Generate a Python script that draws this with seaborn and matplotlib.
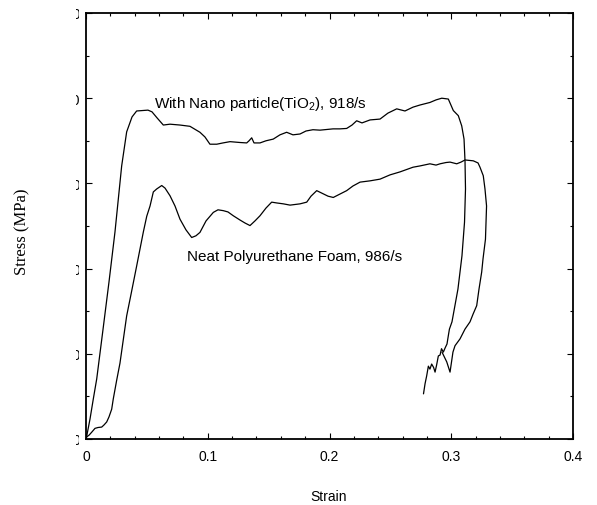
import matplotlib
matplotlib.use("Agg")
import matplotlib.pyplot as plt
import seaborn as sns
import pandas as pd
from matplotlib.ticker import MultipleLocator
from matplotlib.transforms import Bbox, TransformedBbox

# ---- data ----
nano_strain = [0, 0.0006, 0.0033, 0.0060, 0.0088, 0.0137, 0.0189, 0.0238, 0.0293, 0.0334,
               0.0378, 0.0416, 0.0509, 0.0542, 0.0583, 0.0635, 0.0690, 0.0772, 0.0854, 0.0936,
               0.0977, 0.1018, 0.1074, 0.1125, 0.1183, 0.1265, 0.1320, 0.1339, 0.1361, 0.1380,
               0.1429, 0.1478, 0.1538, 0.1593, 0.1648, 0.1700, 0.1758, 0.1807, 0.1864, 0.1922,
               0.2029, 0.2086, 0.2141, 0.2185, 0.2223, 0.2267, 0.2333, 0.2415, 0.2480, 0.2552,
               0.2620, 0.2686, 0.2743, 0.2825, 0.2875, 0.2922, 0.2976, 0.3017, 0.3058, 0.3086,
               0.3105, 0.3113, 0.3117, 0.3109, 0.3088, 0.3055, 0.3006, 0.2985, 0.2978, 0.2965,
               0.2950, 0.2935, 0.2920, 0.2908, 0.2894, 0.2880, 0.2867, 0.2855, 0.2839, 0.2825,
               0.2812, 0.2798, 0.2785, 0.2772]
nano_stress = [0, 0.35, 2.35, 4.7, 7.05, 12.55, 18.45, 24.3, 32.05, 36.05,
               37.8, 38.5, 38.6, 38.4, 37.7, 36.85, 36.95, 36.85, 36.7, 36.0,
               35.45, 34.6, 34.6, 34.75, 34.9, 34.8, 34.75, 35.0, 35.35, 34.75,
               34.75, 35.0, 35.2, 35.7, 36.0, 35.7, 35.8, 36.15, 36.3, 36.25,
               36.4, 36.4, 36.45, 36.85, 37.35, 37.1, 37.45, 37.55, 38.25, 38.75,
               38.5, 38.95, 39.2, 39.5, 39.8, 40.0, 39.9, 38.55, 37.95, 36.75,
               35.2, 32.65, 29.35, 25.45, 21.5, 17.6, 13.75, 12.9, 12.3, 11.15,
               10.7, 10.2, 10.6, 9.85, 9.75, 8.7, 7.85, 8.4, 8.8, 8.2,
               8.55, 7.4, 6.5, 5.3]

neat_strain = [0, 0.0006, 0.0025, 0.0047, 0.0074, 0.0099, 0.0129, 0.0148, 0.0170, 0.0189,
               0.0211, 0.0224, 0.0252, 0.0279, 0.0334, 0.0370, 0.0416, 0.0471, 0.0499, 0.0526,
               0.0553, 0.0581, 0.0622, 0.0649, 0.0690, 0.0731, 0.0772, 0.0821, 0.0868, 0.0903,
               0.0936, 0.0986, 0.1046, 0.1084, 0.1128, 0.1166, 0.1210, 0.1265, 0.1306, 0.1347,
               0.1388, 0.1429, 0.1478, 0.1525, 0.1569, 0.1621, 0.1676, 0.1758, 0.1813, 0.1848,
               0.1895, 0.1938, 0.1988, 0.2031, 0.2086, 0.2141, 0.2193, 0.2251, 0.2333, 0.2415,
               0.2497, 0.2579, 0.2686, 0.2743, 0.2825, 0.2875, 0.2908, 0.2957, 0.2990, 0.3045,
               0.3080, 0.3113, 0.3181, 0.3220, 0.3236, 0.3263, 0.3277, 0.3290, 0.3281, 0.3261,
               0.3250, 0.3228, 0.3209, 0.3179, 0.3154, 0.3113, 0.3072, 0.3031, 0.3014, 0.2990,
               0.2963, 0.2924]
neat_stress = [0, 0.25, 0.45, 0.8, 1.25, 1.35, 1.4, 1.65, 2.0, 2.6,
               3.5, 4.7, 6.9, 8.9, 14.45, 17.0, 20.3, 24.3, 26.15, 27.35,
               29.0, 29.35, 29.75, 29.45, 28.55, 27.35, 25.8, 24.55, 23.65, 23.85,
               24.25, 25.6, 26.6, 26.9, 26.8, 26.65, 26.2, 25.7, 25.35, 25.05,
               25.6, 26.2, 27.1, 27.8, 27.7, 27.6, 27.45, 27.6, 27.8, 28.5,
               29.15, 28.85, 28.5, 28.35, 28.75, 29.15, 29.7, 30.15, 30.3, 30.5,
               31.0, 31.35, 31.9, 32.05, 32.3, 32.15, 32.3, 32.45, 32.5, 32.3,
               32.5, 32.75, 32.65, 32.4, 31.9, 30.9, 29.35, 27.35, 23.45, 21.15,
               19.6, 17.6, 15.65, 14.65, 13.75, 12.9, 11.75, 10.95, 10.2, 7.85,
               9.05, 10.2]

x_ticks = [0, 0.1, 0.2, 0.3, 0.4]
x_tick_labels = ["0", "0.1", "0.2", "0.3", "0.4"]
y_ticks = [0, 10, 20, 30, 40, 50]
y_tick_labels = ["0", "10", "20", "30", "40", "50"]

label_nano = "With Nano particle(TiO$_2$), 918/s"
label_neat = "Neat Polyurethane Foam, 986/s"

# ---- style ----
sns.set_theme(style="ticks")
plt.rcParams["font.family"] = ["Liberation Sans", "DejaVu Sans"]
plt.rcParams["mathtext.fontset"] = "custom"
plt.rcParams["mathtext.rm"] = "Liberation Sans"
plt.rcParams["mathtext.it"] = "Liberation Sans"

fig = plt.figure(figsize=(5.97, 5.06), dpi=100)
ax = fig.add_axes([86 / 597, 66 / 506, 487 / 597, 426 / 506])

df_nano = pd.DataFrame({"strain": nano_strain, "stress": nano_stress})
df_neat = pd.DataFrame({"strain": neat_strain, "stress": neat_stress})
sns.lineplot(data=df_nano, x="strain", y="stress", sort=False, estimator=None,
             color="black", lw=0.9, ax=ax)
sns.lineplot(data=df_neat, x="strain", y="stress", sort=False, estimator=None,
             color="black", lw=0.9, ax=ax)

ax.set_xlim(0, 0.4)
ax.set_ylim(0, 50)
ax.set_xticks(x_ticks)
ax.set_xticklabels(x_tick_labels)
ax.set_yticks(y_ticks)
ax.set_yticklabels(y_tick_labels)
ax.xaxis.set_minor_locator(MultipleLocator(0.02))
ax.yaxis.set_minor_locator(MultipleLocator(5))
ax.tick_params(which="both", direction="in", top=True, right=True, color="black",
               width=0.8)
ax.tick_params(which="major", length=4, labelsize=10, labelcolor="black")
ax.tick_params(which="minor", length=2)
ax.tick_params(axis="x", which="major", pad=7)
ax.tick_params(axis="y", which="major", pad=4)
for s in ax.spines.values():
    s.set_color("black")
    s.set_linewidth(1.3)

# y tick labels are cut off in the reference: only the last sliver shows
clip = TransformedBbox(Bbox([[76 / 597, 0], [79 / 597, 1]]), fig.transFigure)
for t in ax.yaxis.get_major_ticks():
    t.label1.set_clip_box(clip)
    t.label1.set_clip_on(True)

ax.set_xlabel("Strain", fontsize=10, color="black")
ax.xaxis.set_label_coords(0.499, -0.134)
ax.xaxis.label.set_verticalalignment("center")
ax.set_ylabel("Stress (MPa)", fontsize=12, color="black",
              family=["Liberation Serif", "DejaVu Serif"])
ax.yaxis.set_label_coords(-0.131, 0.488)
ax.yaxis.label.set_verticalalignment("center")

ax.text(0.0559, 39.0, label_nano, fontsize=11, ha="left", va="baseline", color="black")
ax.text(0.0827, 21.04, label_neat, fontsize=11, ha="left", va="baseline", color="black")

fig.savefig("out.png", dpi=100)
